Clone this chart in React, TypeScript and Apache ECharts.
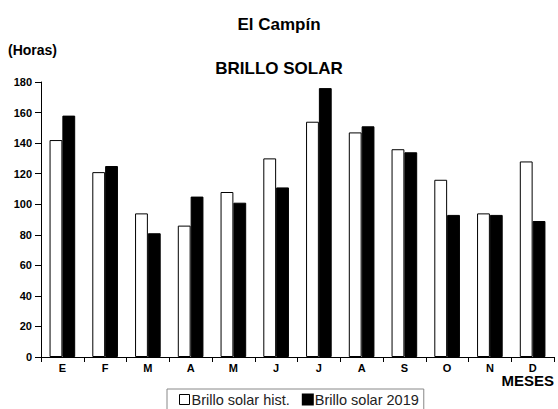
import React, { useEffect, useRef } from "react";
import * as echarts from "echarts";

const months = ["E", "F", "M", "A", "M", "J", "J", "A", "S", "O", "N", "D"];
const histValues = [142, 121, 94, 86, 108, 130, 154, 147, 136, 116, 94, 128];
const values2019 = [158, 125, 81, 105, 101, 111, 176, 151, 134, 93, 93, 89];
const yTicks = { min: 0, max: 180, interval: 20 };

const FONT = "'Liberation Sans', Arial, sans-serif";

export default function App() {
  const ref = useRef<HTMLDivElement>(null);
  useEffect(() => {
    if (!ref.current) return;
    const chart = echarts.init(ref.current, null, { renderer: "svg" });
    chart.setOption({
      animation: false,
      backgroundColor: "#ffffff",
      textStyle: { fontFamily: FONT },
      title: [
        {
          text: "El Campín",
          left: "center",
          top: 11,
          textStyle: { fontSize: 17, fontWeight: "bold", color: "#000", fontFamily: FONT },
        },
        {
          text: "BRILLO SOLAR",
          left: "center",
          top: 55,
          textStyle: { fontSize: 17, fontWeight: "bold", color: "#000", fontFamily: FONT },
        },
      ],
      graphic: [
        {
          type: "text",
          left: 8,
          top: 43,
          style: { text: "(Horas)", font: `bold 14px ${FONT}`, fill: "#000" },
        },
        {
          type: "text",
          right: 4,
          top: 373,
          style: { text: "MESES", font: `bold 15px ${FONT}`, fill: "#000" },
        },
      ],
      legend: {
        left: 167,
        top: 389,
        padding: [3, 5, 3, 12],
        borderColor: "#888",
        borderWidth: 1,
        itemWidth: 10,
        itemHeight: 10,
        itemGap: 12,
        icon: "rect",
        textStyle: { fontSize: 14.5, color: "#222", fontFamily: FONT, padding: [0, 0, 0, -3] },
        data: [
          { name: "Brillo solar hist.", itemStyle: { color: "#fff", borderColor: "#000", borderWidth: 1 } },
          { name: "Brillo solar 2019", itemStyle: { color: "#000" } },
        ],
      },
      grid: { left: 41, right: 4, top: 82, bottom: 52, containLabel: false },
      xAxis: {
        type: "category",
        data: months,
        axisLine: { lineStyle: { color: "#000", width: 1 } },
        axisTick: { show: true, length: 5, inside: false, lineStyle: { color: "#000" } },
        axisLabel: {
          fontSize: 11,
          lineHeight: 10,
          fontWeight: "bold",
          color: "#000",
          margin: 6,
          fontFamily: FONT,
        },
      },
      yAxis: {
        type: "value",
        min: yTicks.min,
        max: yTicks.max,
        interval: yTicks.interval,
        splitLine: { show: false },
        axisLine: { show: true, lineStyle: { color: "#000", width: 1 } },
        axisTick: { show: true, length: 6, lineStyle: { color: "#000" } },
        axisLabel: { fontSize: 11, fontWeight: "bold", color: "#000", margin: 9, fontFamily: FONT },
      },
      series: [
        {
          name: "Brillo solar hist.",
          type: "bar",
          data: histValues,
          barWidth: "30%",
          barGap: "0%",
          itemStyle: { color: "#fff", borderColor: "#000", borderWidth: 1 },
        },
        {
          name: "Brillo solar 2019",
          type: "bar",
          data: values2019,
          barWidth: "30%",
          barGap: "0%",
          itemStyle: { color: "#000", borderColor: "#000", borderWidth: 1 },
        },
      ],
    });
    return () => chart.dispose();
  }, []);
  return (
    <div
      ref={ref}
      style={{ position: "fixed", left: 0, top: 0, width: 558, height: 409 }}
    />
  );
}
